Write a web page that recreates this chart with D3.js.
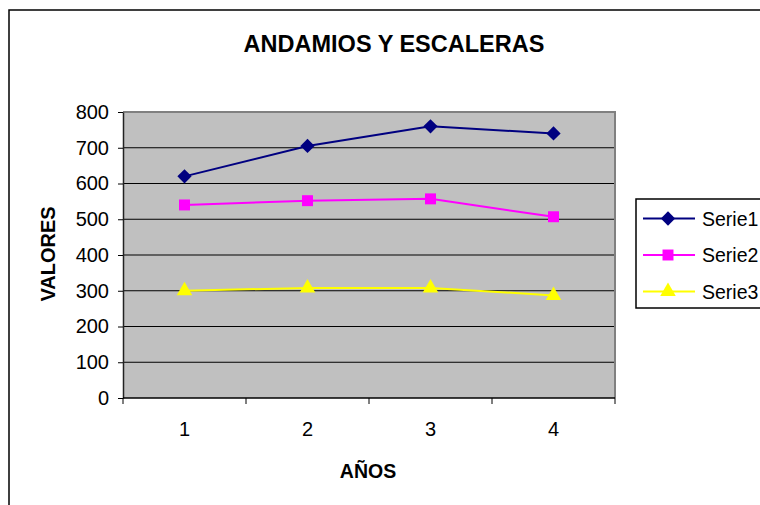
<!DOCTYPE html>
<html>
<head>
<meta charset="utf-8">
<script src="https://cdn.jsdelivr.net/npm/d3@7"></script>
<style>
  html, body { margin: 0; padding: 0; background: #fff; }
  svg { display: block; font-family: "Liberation Sans", Arial, sans-serif; }
</style>
</head>
<body>
<svg id="chart" width="760" height="505"></svg>
<script>
// Chart data
const categories = ["1", "2", "3", "4"];
const serie1 = [620, 705, 760, 740];
const serie2 = [540, 552, 557, 507];
const serie3 = [300, 308, 308, 287];
const yTicks = [0, 100, 200, 300, 400, 500, 600, 700, 800];
const seriesNames = ["Serie1", "Serie2", "Serie3"];

const series = [
  { name: seriesNames[0], values: serie1, color: "#000080", marker: d3.symbolDiamond2, size: 130 },
  { name: seriesNames[1], values: serie2, color: "#FF00FF", marker: d3.symbolSquare, size: 120 },
  { name: seriesNames[2], values: serie3, color: "#FFFF00", marker: d3.symbolTriangle, size: 105 }
];

const svg = d3.select("#chart");
const plot = { left: 123, right: 615, top: 112, bottom: 398 };

// Outer chart frame
svg.append("rect")
  .attr("x", 9).attr("y", 10).attr("width", 800).attr("height", 600)
  .attr("fill", "#fff").attr("stroke", "#000").attr("stroke-width", 1.5);

// Title
svg.append("text")
  .attr("x", 394).attr("y", 52)
  .attr("text-anchor", "middle")
  .attr("font-size", 23.5).attr("font-weight", "bold")
  .text("ANDAMIOS Y ESCALERAS");

const x = d3.scaleBand().domain(categories).range([plot.left, plot.right]).padding(0);
const y = d3.scaleLinear().domain([0, 800]).range([plot.bottom, plot.top]);

// Plot area background
svg.append("rect")
  .attr("x", plot.left).attr("y", plot.top)
  .attr("width", plot.right - plot.left).attr("height", plot.bottom - plot.top)
  .attr("fill", "#C0C0C0");

// Horizontal gridlines
svg.append("g")
  .selectAll("line")
  .data(yTicks.filter(v => v > 0 && v < 800))
  .join("line")
  .attr("x1", plot.left).attr("x2", plot.right)
  .attr("y1", d => y(d)).attr("y2", d => y(d))
  .attr("stroke", "#000").attr("stroke-width", 1);

// Plot frame (top and right)
svg.append("path")
  .attr("d", `M${plot.left},${plot.top}H${plot.right}V${plot.bottom}`)
  .attr("fill", "none").attr("stroke", "#808080").attr("stroke-width", 2);

// Y axis
const yAxis = svg.append("g")
  .attr("transform", `translate(${plot.left},0)`)
  .call(d3.axisLeft(y).tickValues(yTicks).tickSize(5).tickPadding(9).tickSizeOuter(0));
yAxis.select(".domain").attr("stroke", "#222").attr("stroke-width", 1.5);
yAxis.selectAll(".tick line").attr("stroke", "#000");
yAxis.selectAll("text").attr("font-size", 20).attr("font-family", "Liberation Sans, Arial, sans-serif").attr("fill", "#000");

// X axis: ticks at category boundaries, labels centred in each category
const xBounds = categories.map(c => x(c)).concat([plot.right]);
const xAxisG = svg.append("g");
xAxisG.append("line")
  .attr("x1", plot.left).attr("x2", plot.right)
  .attr("y1", plot.bottom).attr("y2", plot.bottom)
  .attr("stroke", "#000").attr("stroke-width", 1.5);
xAxisG.selectAll("line.tk")
  .data(xBounds)
  .join("line").attr("class", "tk")
  .attr("x1", d => d).attr("x2", d => d)
  .attr("y1", plot.bottom).attr("y2", plot.bottom + 6)
  .attr("stroke", "#000");
xAxisG.selectAll("text")
  .data(categories)
  .join("text")
  .attr("x", d => x(d) + x.bandwidth() / 2)
  .attr("y", 436)
  .attr("text-anchor", "middle")
  .attr("font-size", 20)
  .text(d => d);

// Axis titles
svg.append("text")
  .attr("x", 368).attr("y", 478)
  .attr("text-anchor", "middle")
  .attr("font-size", 19.5).attr("font-weight", "bold")
  .text("AÑOS");
svg.append("text")
  .attr("transform", "translate(55,254) rotate(-90)")
  .attr("text-anchor", "middle")
  .attr("font-size", 20).attr("font-weight", "bold")
  .text("VALORES");

// Series lines and markers
const line = d3.line()
  .x((d, i) => x(categories[i]) + x.bandwidth() / 2)
  .y(d => y(d));

series.forEach(s => {
  svg.append("path")
    .datum(s.values)
    .attr("d", line)
    .attr("fill", "none")
    .attr("stroke", s.color)
    .attr("stroke-width", 2);
  svg.append("g")
    .selectAll("path")
    .data(s.values)
    .join("path")
    .attr("transform", (d, i) => `translate(${x(categories[i]) + x.bandwidth() / 2},${y(d)})`)
    .attr("d", d3.symbol().type(s.marker).size(s.size))
    .attr("fill", s.color);
});

// Legend
const legend = svg.append("g");
legend.append("rect")
  .attr("x", 636).attr("y", 199).attr("width", 140).attr("height", 109)
  .attr("fill", "#fff").attr("stroke", "#000").attr("stroke-width", 1.5);
series.forEach((s, i) => {
  const ly = 218.5 + i * 36.5;
  legend.append("line")
    .attr("x1", 643).attr("x2", 695).attr("y1", ly).attr("y2", ly)
    .attr("stroke", s.color).attr("stroke-width", 2);
  legend.append("path")
    .attr("transform", `translate(668,${ly})`)
    .attr("d", d3.symbol().type(s.marker).size(s.size))
    .attr("fill", s.color);
  legend.append("text")
    .attr("x", 702).attr("y", ly + 7)
    .attr("font-size", 19.5)
    .text(s.name);
});
</script>
</body>
</html>
